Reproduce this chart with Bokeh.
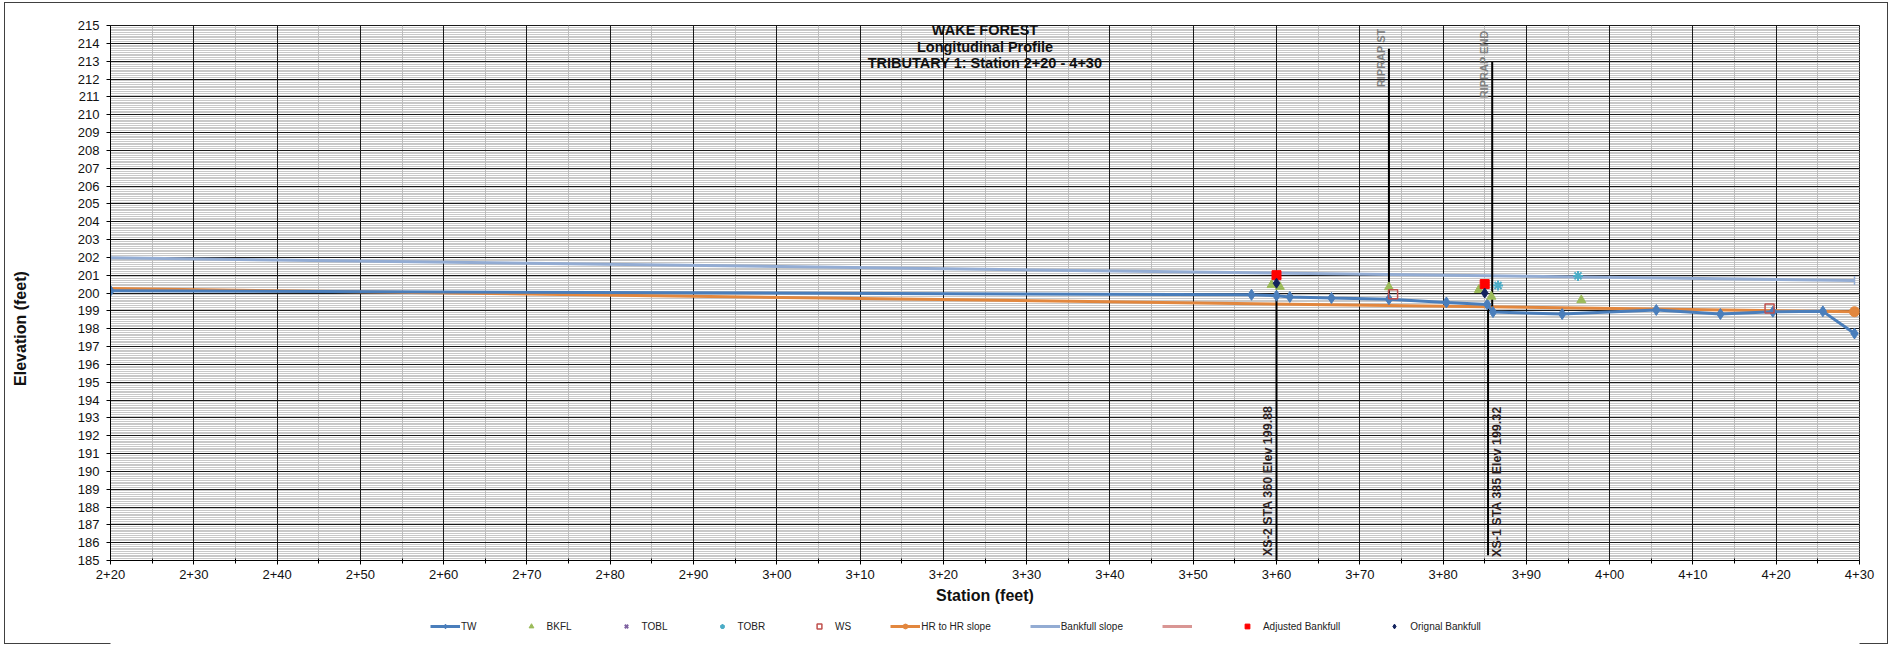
import numpy as np
from bokeh.plotting import figure
from bokeh.layouts import column
from bokeh.models import (Range1d, FixedTicker, SingleIntervalTicker, Grid, Label,
                          Legend, LegendItem, ColumnDataSource)
from bokeh.core.properties import value
from bokeh.embed import file_html
from bokeh.resources import INLINE

# ---------------- data ----------------
x_ticks = [220, 230, 240, 250, 260, 270, 280, 290, 300, 310, 320,
           330, 340, 350, 360, 370, 380, 390, 400, 410, 420, 430]
x_tick_labels = ["2+20", "2+30", "2+40", "2+50", "2+60", "2+70", "2+80", "2+90",
                 "3+00", "3+10", "3+20", "3+30", "3+40", "3+50", "3+60", "3+70",
                 "3+80", "3+90", "4+00", "4+10", "4+20", "4+30"]

tw_sta = [220.0, 357.0, 360.0, 361.6, 366.6, 373.5, 380.4, 385.3, 386.0,
          394.3, 405.6, 413.3, 419.6, 425.6, 429.4]
tw_elev = [200.12, 199.9, 199.85, 199.78, 199.72, 199.65, 199.47, 199.36, 198.93,
           198.82, 199.05, 198.82, 198.95, 198.97, 197.73]

bkfl_sta = [359.4, 360.4, 373.5, 384.3, 385.8, 396.6]
bkfl_elev = [200.45, 200.35, 200.33, 200.18, 199.8, 199.6]

tobl_sta = []
tobl_elev = []

tobr_sta = [386.6, 396.2]
tobr_elev = [200.42, 200.96]

ws_sta = [374.0, 419.2]
ws_elev = [199.93, 199.13]

hr_sta = [215.0, 429.4]
hr_elev = [200.28, 198.95]

bf_sta = [220.0, 429.4]
bf_elev = [201.97, 200.7]

pink_sta = []
pink_elev = []

adj_sta = [360.0, 385.0]
adj_elev = [201.0, 200.5]

orig_sta = [360.0, 385.0]
orig_elev = [200.55, 200.0]

xs_sta = [360.0, 385.4]
xs_bottom = [185.0, 185.3]
xs_top = [199.88, 199.32]
xs_text = ["XS-2 STA 360 Elev 199.88", "XS-1 STA 385 Elev 199.32"]

rip_sta = [373.5, 385.9]
rip_bottom = [199.65, 199.25]
rip_top = [213.7, 212.95]
rip_text = ["RIPRAP ST", "RIPRAP END"]

title_lines = ["WAKE FOREST", "Longitudinal Profile", "TRIBUTARY 1: Station 2+20 - 4+30"]

legend_labels = ["TW", "BKFL", "TOBL", "TOBR", "WS", "HR to HR slope",
                 "Bankfull slope", " ", "Adjusted Bankfull", "Orignal Bankfull"]

# ---------------- styles ----------------
FONT = "Liberation Sans"
C_TW = "#4A7EBB"
C_HR = "#E2873E"
C_BF = "#93ACD3"
C_BKFL = "#9BBB59"
C_TOBL = "#8064A2"
C_TOBR = "#4BACC6"
C_WS = "#C0504D"
C_PINK = "#D99694"
C_ADJ = "#FF0000"
C_ORIG = "#13235E"
C_BORDER = "#404040"


def edge(x, y, w, h):
    return (f"linear-gradient({C_BORDER},{C_BORDER}) {x} {y} / {w} {h} no-repeat")


W = 1892
p = figure(width=W, height=610,
           x_range=Range1d(220, 430), y_range=Range1d(185, 215),
           output_backend="svg", toolbar_location=None,
           min_border_left=110, min_border_right=33,
           min_border_top=25, min_border_bottom=50,
           background_fill_color="white", border_fill_alpha=0)
p.outline_line_color = "#1a1a1a"
p.styles = {"background": ", ".join([edge("4px", "2px", "1px", "100%"),
                                     edge("1887px", "2px", "1px", "100%"),
                                     edge("4px", "2px", "1884px", "1px")])}

xticker = FixedTicker(ticks=x_ticks, minor_ticks=[t + 5 for t in x_ticks[:-1]])
yticker = SingleIntervalTicker(interval=1, num_minor_ticks=10)

p.xaxis.ticker = xticker
p.yaxis.ticker = yticker
p.xaxis.major_label_overrides = {t: s for t, s in zip(x_ticks, x_tick_labels)}

for ax in (p.xaxis, p.yaxis):
    ax.axis_line_color = "black"
    ax.major_tick_line_color = "black"
    ax.major_tick_out = 4
    ax.major_tick_in = 0
    ax.major_label_text_font = FONT
    ax.major_label_text_font_size = "13px"
    ax.major_label_text_color = "#111111"
    ax.axis_label_text_font = FONT
    ax.axis_label_text_font_size = "16px"
    ax.axis_label_text_font_style = "bold"
    ax.axis_label_text_color = "#111111"
p.yaxis.minor_tick_line_color = None
p.yaxis.major_label_standoff = 7
p.yaxis.axis_label = "Elevation (feet)" + "\u00a0" * 16
p.yaxis.axis_label_standoff = 46
p.xaxis.minor_tick_line_color = "black"
p.xaxis.minor_tick_in = 2
p.xaxis.minor_tick_out = 3
p.xaxis.major_label_standoff = 5
p.xaxis.axis_label = "Station (feet)"
p.xaxis.axis_label_standoff = 5

# grids: y-minor under x-grid under y-major
p.xgrid.visible = False
p.ygrid.ticker = yticker
p.ygrid.grid_line_color = None
p.ygrid.minor_grid_line_color = "#c8c8c8"
p.ygrid.minor_grid_line_width = 1
xg = Grid(dimension=0, ticker=xticker, grid_line_color="#1a1a1a", grid_line_width=1,
          minor_grid_line_color="#bdbdbd", minor_grid_line_width=1)
p.add_layout(xg)
yg = Grid(dimension=1, ticker=yticker, grid_line_color="#1a1a1a", grid_line_width=1)
p.add_layout(yg)

# title lines
for txt, yy in zip(title_lines, [214.72, 213.77, 212.87]):
    p.add_layout(Label(x=325, y=yy, text=txt, text_align="center", text_baseline="middle",
                       text_font=FONT, text_font_size="14.5px", text_font_style="bold",
                       text_color="#111111"))

# series
p.line(bf_sta, bf_elev, line_color=C_BF, line_width=3)
p.scatter(bf_sta, bf_elev, marker="dash", angle=np.pi / 2, size=9,
          line_color=C_BF, line_width=1.5)
p.line(hr_sta, hr_elev, line_color=C_HR, line_width=3)
p.scatter(hr_sta, hr_elev, marker="circle", size=10, fill_color=C_HR, line_color=C_HR)
p.line(pink_sta, pink_elev, line_color=C_PINK, line_width=3)

# callout lines
xs_src = ColumnDataSource(dict(x=xs_sta, y0=xs_bottom, y1=xs_top, text=xs_text,
                               ty=[185.25, 185.2], dx=[-9, 8.5]))
rip_src = ColumnDataSource(dict(x=rip_sta, y0=rip_bottom, y1=rip_top, text=rip_text,
                                ty=[214.83, 214.72], dx=[-8, -8]))
p.segment(x0="x", y0="y0", x1="x", y1="y1", source=xs_src, line_color="black", line_width=2)
p.segment(x0="x", y0="y0", x1="x", y1="y1", source=rip_src, line_color="black", line_width=2)
p.text(x="x", y="ty", text="text", x_offset="dx", angle=np.pi / 2, source=xs_src,
       text_align="left", text_baseline="middle", text_font=value(FONT),
       text_font_size="12.5px", text_font_style="bold", text_color="#2d1f1f")
p.text(x="x", y="ty", text="text", x_offset="dx", angle=np.pi / 2, source=rip_src,
       text_align="right", text_baseline="middle", text_font=value(FONT),
       text_font_size="11px", text_font_style="bold", text_color="#808080")

p.line(tw_sta, tw_elev, line_color=C_TW, line_width=3)
p.scatter(tw_sta, tw_elev, marker="diamond", size=11, fill_color=C_TW, line_color=C_TW)
p.scatter(bkfl_sta, bkfl_elev, marker="triangle", size=9, fill_color=C_BKFL, line_color=C_BKFL)
p.scatter(tobl_sta, tobl_elev, marker="x", size=8, line_color=C_TOBL, line_width=2)
p.scatter(tobr_sta, tobr_elev, marker="asterisk", size=10, line_color=C_TOBR, line_width=2)
p.scatter(ws_sta, ws_elev, marker="square", size=9, fill_color=None,
          line_color=C_WS, line_width=1.5)
p.scatter(adj_sta, adj_elev, marker="square", size=9, fill_color=C_ADJ, line_color=C_ADJ)
p.scatter(orig_sta, orig_elev, marker="diamond", size=10, fill_color=C_ORIG, line_color=C_ORIG)

# ---------------- legend strip ----------------
# (legend-only renderers: their data lie outside this strip's ranges, so only
#  the legend swatches are visible)
q = figure(width=W, height=35, x_range=Range1d(0, 1), y_range=Range1d(0, 1),
           output_backend="svg", toolbar_location=None,
           x_axis_type=None, y_axis_type=None,
           min_border_left=0, min_border_right=0, min_border_top=0, min_border_bottom=0,
           background_fill_color="white", border_fill_alpha=0)
q.outline_line_color = None
q.grid.visible = False
q.styles = {"background": ", ".join([edge("4px", "0px", "1px", "34px"),
                                     edge("1887px", "0px", "1px", "34px"),
                                     edge("4px", "33px", "1884px", "1px")])}

g_tw = [q.line(tw_sta, tw_elev, line_color=C_TW, line_width=3),
        q.scatter(tw_sta, tw_elev, marker="diamond", size=9, fill_color=C_TW, line_color=C_TW)]
g_bkfl = [q.scatter(bkfl_sta, bkfl_elev, marker="triangle", size=8,
                    fill_color=C_BKFL, line_color=C_BKFL)]
g_tobl = [q.scatter(tobr_sta, tobr_elev, marker="x", size=7, line_color=C_TOBL, line_width=2)]
g_tobr = [q.scatter(tobr_sta, tobr_elev, marker="asterisk", size=7,
                    line_color=C_TOBR, line_width=2)]
g_ws = [q.scatter(ws_sta, ws_elev, marker="square", size=8, fill_color=None,
                  line_color=C_WS, line_width=1.5)]
g_hr = [q.line(hr_sta, hr_elev, line_color=C_HR, line_width=3),
        q.scatter(hr_sta, hr_elev, marker="circle", size=8, fill_color=C_HR, line_color=C_HR)]
g_bf = [q.line(bf_sta, bf_elev, line_color=C_BF, line_width=3),
        q.scatter(bf_sta, bf_elev, marker="dash", angle=np.pi / 2, size=8,
                  line_color=C_BF, line_width=1.5)]
g_pink = [q.line(bf_sta, bf_elev, line_color=C_PINK, line_width=3)]
g_adj = [q.scatter(adj_sta, adj_elev, marker="square", size=7, fill_color=C_ADJ, line_color=C_ADJ)]
g_orig = [q.scatter(orig_sta, orig_elev, marker="diamond", size=8,
                    fill_color=C_ORIG, line_color=C_ORIG)]
groups = [g_tw, g_bkfl, g_tobl, g_tobr, g_ws, g_hr, g_bf, g_pink, g_adj, g_orig]

legend = Legend(items=[LegendItem(label=lab, renderers=r) for lab, r in zip(legend_labels, groups)],
                orientation="horizontal", location=(320, 13), glyph_width=30, glyph_height=12,
                label_height=12, label_width=0, label_standoff=1, spacing=39,
                padding=0, margin=0, border_line_color=None, background_fill_alpha=0,
                label_text_font=FONT, label_text_font_size="10px", label_text_color="#222222")
q.add_layout(legend)

layout = column(p, q, spacing=0)

open("out.html", "w").write(file_html(layout, INLINE))
